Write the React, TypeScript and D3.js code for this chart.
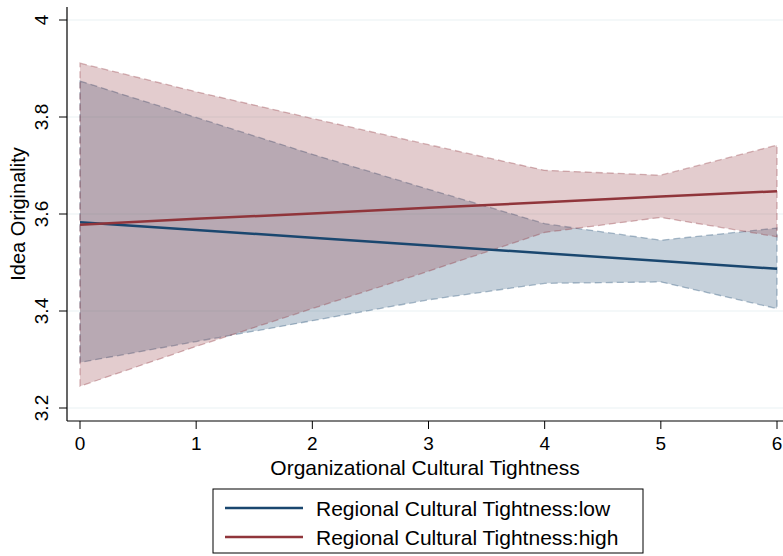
import React from "react";
import * as d3 from "d3";

const W = 783;
const H = 556;
const FONT = "'Liberation Sans', Arial, Helvetica, sans-serif";

// Organizational cultural tightness (x)
const xValues = [0, 1, 2, 3, 4, 5, 6];
const xTicks = [0, 1, 2, 3, 4, 5, 6];
const yTicks = [3.2, 3.4, 3.6, 3.8, 4];

// Regional cultural tightness: low
const lowFit = [3.583, 3.567, 3.551, 3.535, 3.519, 3.503, 3.487];
const lowLower = [3.294, 3.337, 3.38, 3.423, 3.457, 3.46, 3.405];
const lowUpper = [3.874, 3.799, 3.723, 3.651, 3.58, 3.546, 3.571];

// Regional cultural tightness: high
const highFit = [3.578, 3.59, 3.601, 3.613, 3.624, 3.636, 3.647];
const highLower = [3.245, 3.327, 3.405, 3.482, 3.562, 3.593, 3.553];
const highUpper = [3.911, 3.852, 3.797, 3.743, 3.69, 3.68, 3.742];

const seriesNames = ["Regional Cultural Tightness:low", "Regional Cultural Tightness:high"];
const seriesColors = ["#1a476f", "#90353b"];

const AXIS_X = 67;
const AXIS_Y = 421;

export default function App() {
  const xScale = d3.scaleLinear().domain([0, 6]).range([80, 777]);
  const yScale = d3.scaleLinear().domain([3.2, 4]).range([408, 20]);

  const series = [
    { fit: lowFit, lo: lowLower, hi: lowUpper },
    { fit: highFit, lo: highLower, hi: highUpper },
  ];

  const band = (lo: number[], hi: number[]) =>
    d3
      .area<number>()
      .x((d) => xScale(d))
      .y0((_, i) => yScale(lo[i]))
      .y1((_, i) => yScale(hi[i]))(xValues) || "";

  const line = (v: number[]) =>
    d3
      .line<number>()
      .x((d) => xScale(d))
      .y((_, i) => yScale(v[i]))(xValues) || "";

  return (
    <svg
      width={W}
      height={H}
      style={{ position: "absolute", left: 0, top: 0, background: "#fff" }}
      fontFamily={FONT}
    >
      {/* grid */}
      {yTicks.map((t) => (
        <line
          key={"g" + t}
          x1={AXIS_X}
          x2={W}
          y1={yScale(t)}
          y2={yScale(t)}
          stroke="#eaf2f3"
          strokeWidth={1.2}
        />
      ))}

      {/* confidence bands */}
      {series.map((s, i) => (
        <path
          key={"b" + i}
          d={band(s.lo, s.hi)}
          fill={seriesColors[i]}
          fillOpacity={0.25}
          stroke={seriesColors[i]}
          strokeOpacity={0.35}
          strokeWidth={1.3}
          strokeDasharray="7 4"
        />
      ))}

      {/* fitted lines */}
      {series.map((s, i) => (
        <path
          key={"l" + i}
          d={line(s.fit)}
          fill="none"
          stroke={seriesColors[i]}
          strokeWidth={2.5}
        />
      ))}

      {/* y axis */}
      <line x1={AXIS_X} x2={AXIS_X} y1={7} y2={AXIS_Y} stroke="#000" strokeWidth={1.2} />
      {yTicks.map((t) => (
        <g key={"y" + t}>
          <line x1={AXIS_X - 8} x2={AXIS_X} y1={yScale(t)} y2={yScale(t)} stroke="#000" strokeWidth={1} />
          <text
            transform={`translate(48,${yScale(t)}) rotate(-90)`}
            textAnchor="middle"
            fontSize={19}
            fill="#000"
          >
            {String(t)}
          </text>
        </g>
      ))}
      <text
        transform={`translate(25,214) rotate(-90)`}
        textAnchor="middle"
        fontSize={20}
        fill="#000"
      >
        Idea Originality
      </text>

      {/* x axis */}
      <line x1={AXIS_X} x2={W} y1={AXIS_Y} y2={AXIS_Y} stroke="#000" strokeWidth={1.2} />
      {xTicks.map((t) => (
        <g key={"x" + t}>
          <line x1={xScale(t)} x2={xScale(t)} y1={AXIS_Y} y2={AXIS_Y + 8} stroke="#000" strokeWidth={1} />
          <text x={xScale(t)} y={450} textAnchor="middle" fontSize={19} fill="#000">
            {String(t)}
          </text>
        </g>
      ))}
      <text x={425} y={475} textAnchor="middle" fontSize={21} fill="#000">
        Organizational Cultural Tightness
      </text>

      {/* legend */}
      <rect x={213} y={489} width={430} height={64} fill="#fff" stroke="#000" strokeWidth={1} />
      {seriesNames.map((name, i) => (
        <g key={"lg" + i}>
          <line
            x1={225}
            x2={303}
            y1={508 + i * 29}
            y2={508 + i * 29}
            stroke={seriesColors[i]}
            strokeWidth={2.5}
          />
          <text x={316} y={516 + i * 29} fontSize={21} fill="#000">
            {name}
          </text>
        </g>
      ))}
    </svg>
  );
}
